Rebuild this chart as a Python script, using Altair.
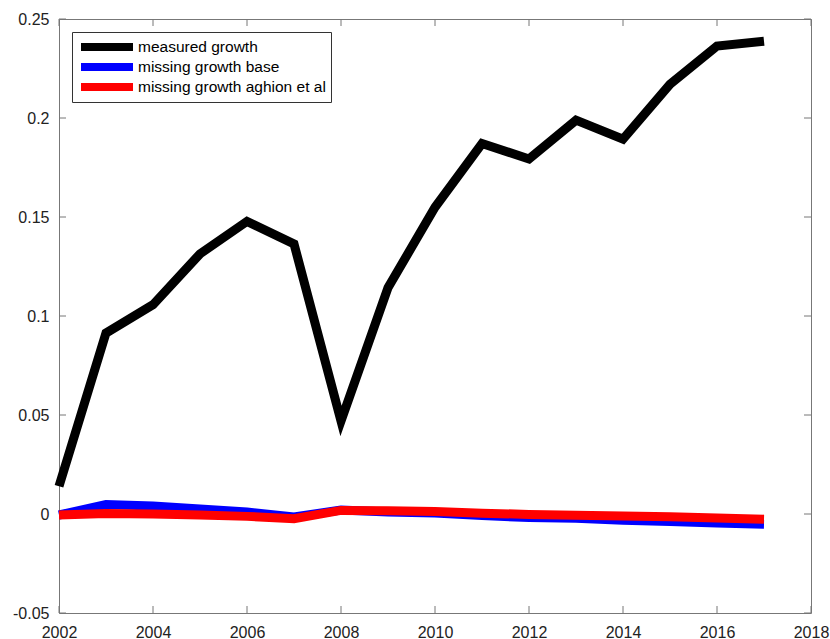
import altair as alt
import pandas as pd

# Series values by year
years = list(range(2002, 2018))
measured_growth = [0.014, 0.0914, 0.1057, 0.1314, 0.1478, 0.1364, 0.047, 0.1143,
                   0.1549, 0.1871, 0.1793, 0.1989, 0.1893, 0.217, 0.2363, 0.2388]
missing_base = [-0.0005, 0.0048, 0.004, 0.0025, 0.001, -0.0015, 0.002, 0.001,
                0.0005, -0.0008, -0.0018, -0.0022, -0.0032, -0.0038, -0.0046, -0.0052]
missing_aghion = [-0.0005, 0.0002, 0.0, -0.0005, -0.0012, -0.0024, 0.0018, 0.0016,
                  0.0012, 0.0004, -0.0002, -0.0006, -0.001, -0.0014, -0.002, -0.0026]

series_names = ["measured growth", "missing growth base", "missing growth aghion et al"]
series_colors = ["#000000", "#0000ff", "#ff0000"]

x_ticks = [2002, 2004, 2006, 2008, 2010, 2012, 2014, 2016, 2018]
y_ticks = [-0.05, 0, 0.05, 0.1, 0.15, 0.2, 0.25]

W, H = 752, 594
FONT = "Liberation Sans"

df = pd.DataFrame({
    "year": years * 3,
    "value": measured_growth + missing_base + missing_aghion,
    "series": [series_names[0]] * len(years)
    + [series_names[1]] * len(years)
    + [series_names[2]] * len(years),
})

x_scale = alt.Scale(domain=[2002, 2018], nice=False, zero=False)
y_scale = alt.Scale(domain=[-0.05, 0.25], nice=False, zero=False)

x_axis = alt.Axis(values=x_ticks, format="d", title=None, grid=False, domain=False,
                  ticks=False, tickSize=0, labelPadding=11, labelFontSize=16,
                  labelFont=FONT, labelColor="#222222", labelFlush=False)
y_axis = alt.Axis(values=y_ticks, title=None, grid=False, domain=False,
                  ticks=False, tickSize=0, labelPadding=10, labelFontSize=16,
                  labelFont=FONT, labelColor="#222222",
                  labelExpr="datum.value < 0 ? '-' + format(-datum.value, '.2~f') : format(datum.value, '.2~f')")

legend = alt.Legend(
    title=None, orient="none", legendX=13, legendY=13,
    strokeColor="#333333", fillColor="white", padding=5,
    symbolType="stroke", symbolStrokeWidth=8, symbolSize=2704, symbolOffset=0,
    clipHeight=20, rowPadding=0, labelOffset=1, labelLimit=400,
    labelFontSize=15.5, labelFont=FONT, labelColor="#000000",
)

color = alt.Color("series:N", scale=alt.Scale(domain=series_names, range=series_colors),
                  legend=legend)

base = alt.Chart(df)


def series_line(name):
    return base.transform_filter(alt.datum.series == name).mark_line(
        strokeWidth=9, strokeCap="butt", strokeJoin="miter"
    ).encode(
        x=alt.X("year:Q", scale=x_scale, axis=x_axis),
        y=alt.Y("value:Q", scale=y_scale, axis=y_axis),
        color=color,
    )


lines = [series_line(n) for n in series_names]

# Inward ticks on all four sides of the box
tick_color = "#777777"
xt = alt.Chart(pd.DataFrame({"t": x_ticks}))
yt = alt.Chart(pd.DataFrame({"t": y_ticks}))
bottom_ticks = xt.mark_rule(color=tick_color, strokeWidth=1).encode(
    x=alt.X("t:Q", scale=x_scale, axis=x_axis), y=alt.value(H), y2=alt.value(H - 7))
top_ticks = xt.mark_rule(color=tick_color, strokeWidth=1).encode(
    x=alt.X("t:Q", scale=x_scale, axis=x_axis), y=alt.value(0), y2=alt.value(7))
left_ticks = yt.mark_rule(color=tick_color, strokeWidth=1).encode(
    y=alt.Y("t:Q", scale=y_scale, axis=y_axis), x=alt.value(0), x2=alt.value(7))
right_ticks = yt.mark_rule(color=tick_color, strokeWidth=1).encode(
    y=alt.Y("t:Q", scale=y_scale, axis=y_axis), x=alt.value(W), x2=alt.value(W - 7))

chart = alt.layer(
    bottom_ticks, top_ticks, left_ticks, right_ticks, *lines
).properties(
    width=W, height=H,
    padding={"left": 59, "top": 19, "right": 19, "bottom": 26},
    autosize=alt.AutoSizeParams(type="none"),
    background="white",
).configure_view(
    stroke="#777777", strokeWidth=1
)

chart.save("out.html", embed_options={"renderer": "svg", "actions": False})
